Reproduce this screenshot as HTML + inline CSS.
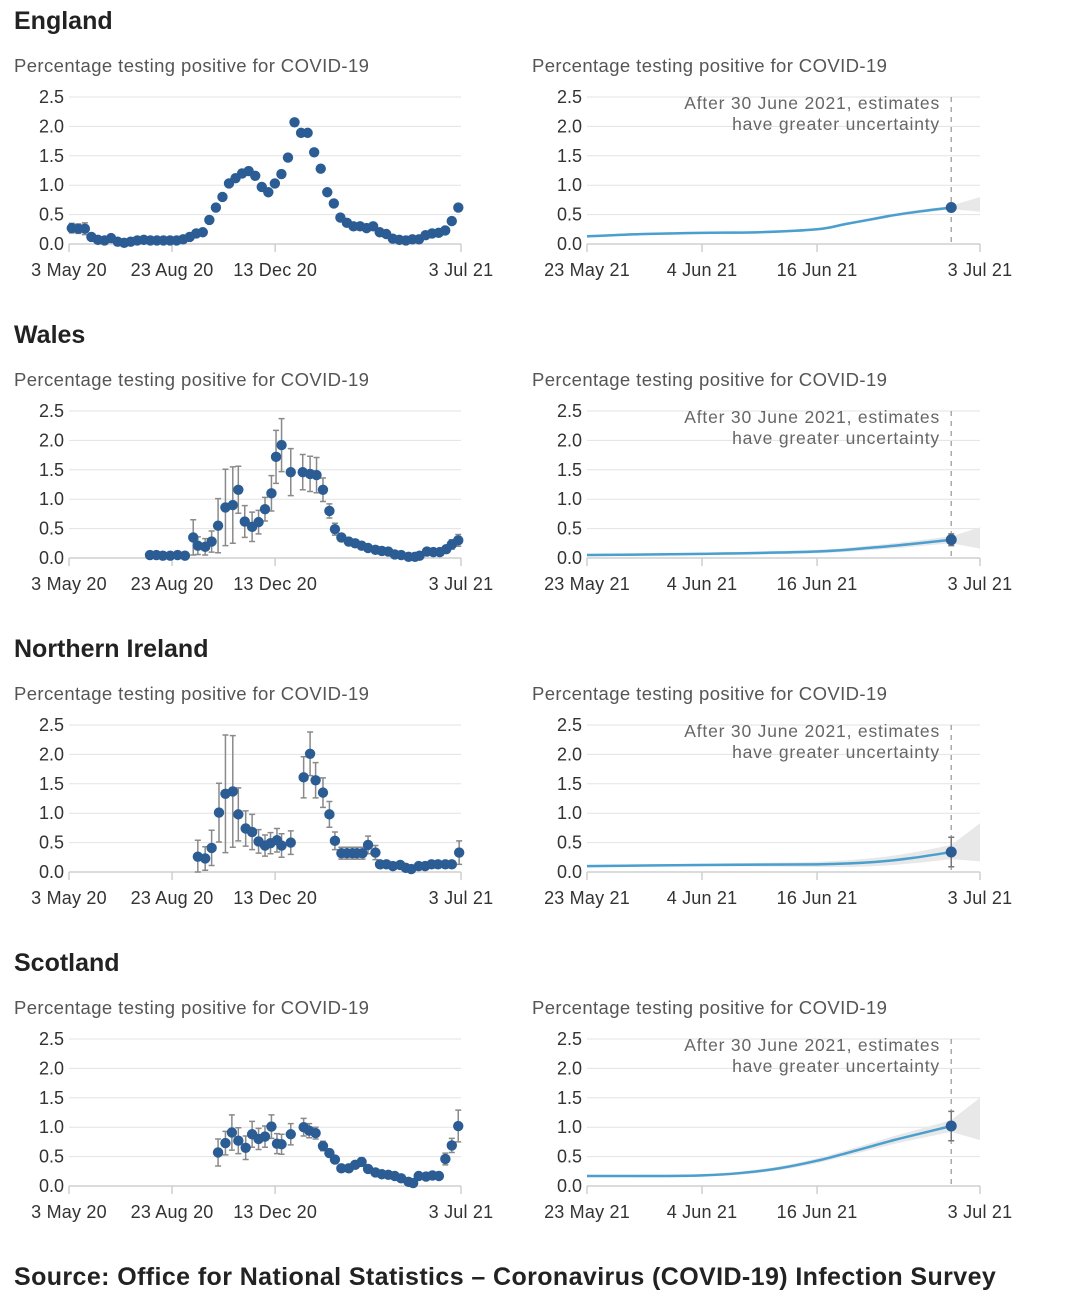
<!DOCTYPE html>
<html><head><meta charset="utf-8">
<style>
html,body{margin:0;padding:0;background:#fff;}
svg{display:block;font-family:"Liberation Sans",sans-serif;}
</style></head>
<body>
<svg id="c" width="1080" height="1314" viewBox="0 0 1080 1314" xmlns="http://www.w3.org/2000/svg">
<text x="14" y="1285" font-size="25" font-weight="bold" fill="#222" letter-spacing="0.4">Source: Office for National Statistics – Coronavirus (COVID-19) Infection Survey</text>
</svg>
<script>
// ---- data ----
const regions = ["England","Wales","Northern Ireland","Scotland"];
const yTicks = [0,0.5,1,1.5,2,2.5];
const yTickLabels = ["0.0","0.5","1.0","1.5","2.0","2.5"];
const leftTickDays = [0,112,224,426];
const leftTickLabels = ["3 May 20","23 Aug 20","13 Dec 20","3 Jul 21"];
const rightTickDays = [0,12,24,41];
const rightTickLabels = ["23 May 21","4 Jun 21","16 Jun 21","3 Jul 21"];

const engValues = [0.27,0.26,0.26,0.12,0.07,0.06,0.1,0.04,0.02,0.04,0.06,0.07,0.06,0.06,0.06,0.06,0.06,0.08,0.12,0.18,0.2,0.41,0.62,0.8,1.03,1.12,1.2,1.24,1.16,0.97,0.88,1.03,1.19,1.47,2.07,1.89,1.89,1.56,1.28,0.88,0.69,0.45,0.36,0.3,0.3,0.27,0.3,0.2,0.17,0.09,0.07,0.06,0.08,0.08,0.15,0.18,0.19,0.23,0.39,0.62];
const engErr = [0.08,0.08,0.1,0.05,0.03,0.03,0.05,0.03,0.02,0.02,0.02,0.02,0.02,0.02,0.02,0.02,0.02,0.02,0.02,0.02,0.02,0.02,0.02,0.02,0.02,0.02,0.02,0.02,0.02,0.02,0.02,0.02,0.02,0.02,0.05,0.03,0.03,0.03,0.02,0.02,0.02,0.02,0.02,0.02,0.02,0.02,0.02,0.02,0.02,0.02,0.02,0.02,0.02,0.02,0.02,0.02,0.02,0.02,0.03,0.04];
const engStartDay = 3, engStepDays = 7.12;

const walDays = [88,95,102,110,118,126,135,140,148,155,162,170,178,184,191,199,206,213,220,225,231,241,254,262,269,276,283,289,296,304,311,318,325,333,340,347,354,361,369,376,381,389,396,403,410,416,423];
const walValues = [0.05,0.05,0.04,0.04,0.05,0.04,0.35,0.21,0.19,0.28,0.55,0.86,0.9,1.16,0.62,0.53,0.61,0.83,1.1,1.72,1.92,1.46,1.46,1.43,1.41,1.16,0.8,0.49,0.35,0.28,0.25,0.21,0.17,0.14,0.12,0.11,0.06,0.05,0.02,0.02,0.04,0.11,0.1,0.1,0.15,0.23,0.3];
const walErr = [0.02,0.02,0.02,0.02,0.02,0.02,0.3,0.15,0.14,0.18,0.46,0.65,0.65,0.4,0.27,0.25,0.2,0.2,0.3,0.45,0.45,0.4,0.3,0.3,0.3,0.2,0.12,0.1,0.06,0.06,0.06,0.06,0.05,0.05,0.05,0.05,0.04,0.04,0.04,0.04,0.04,0.05,0.05,0.05,0.06,0.08,0.1];

const niDays = [140,148,155,163,170,178,184,192,199,206,213,219,226,231,241,255,262,268,276,283,289,296,302,308,313,319,325,333,338,345,352,360,366,372,380,387,394,401,409,416,424];
const niValues = [0.26,0.23,0.41,1.01,1.33,1.37,0.98,0.74,0.68,0.52,0.45,0.49,0.54,0.45,0.5,1.61,2.01,1.56,1.35,0.98,0.53,0.32,0.32,0.32,0.32,0.32,0.46,0.33,0.13,0.13,0.1,0.12,0.07,0.05,0.1,0.1,0.13,0.13,0.13,0.13,0.33];
const niErr = [0.28,0.2,0.3,0.5,1.0,0.95,0.45,0.3,0.3,0.2,0.18,0.18,0.2,0.2,0.2,0.35,0.37,0.3,0.25,0.22,0.15,0.1,0.1,0.1,0.1,0.1,0.15,0.12,0.06,0.06,0.06,0.06,0.06,0.06,0.06,0.06,0.06,0.06,0.06,0.06,0.2];

const scoDays = [162,170,177,184,192,199,206,213,220,226,231,241,255,261,268,276,283,289,296,304,311,318,325,333,340,347,354,361,369,374,380,388,395,402,409,416,423];
const scoValues = [0.57,0.73,0.91,0.77,0.65,0.88,0.8,0.84,1.01,0.72,0.71,0.88,1.0,0.94,0.9,0.68,0.56,0.45,0.3,0.3,0.36,0.41,0.29,0.23,0.2,0.19,0.17,0.13,0.07,0.05,0.17,0.16,0.18,0.17,0.46,0.69,1.02];
const scoErr = [0.23,0.2,0.3,0.22,0.2,0.22,0.18,0.18,0.2,0.17,0.17,0.18,0.15,0.12,0.1,0.08,0.06,0.05,0.05,0.05,0.05,0.07,0.05,0.04,0.04,0.04,0.04,0.04,0.04,0.04,0.04,0.04,0.04,0.04,0.1,0.12,0.27];

const modelDaysEng = [0,6,12,18,24,27,30,32,35,38];
const modelEng = [0.13,0.17,0.19,0.2,0.25,0.34,0.43,0.49,0.56,0.62];
const modelDaysWal = [0,12,24,30,34,38];
const modelWal = [0.05,0.07,0.11,0.18,0.24,0.31];
const modelDaysNi = [0,12,24,30,34,38];
const modelNi = [0.1,0.12,0.13,0.17,0.24,0.34];
const modelDaysSco = [0,8,12,16,20,24,28,32,35,38];
const modelSco = [0.17,0.17,0.18,0.22,0.3,0.43,0.6,0.78,0.9,1.02];
const bandHalf = [[0.02,0.03],[0.02,0.06],[0.02,0.12],[0.02,0.1]];
const pointErr = [0.04,0.1,0.25,0.25];
const endBandLo = [0.55,0.16,0.18,0.78];
const endBandHi = [0.8,0.52,0.83,1.5];
const lastModelDay = 38, endDay = 41;

// ---- drawing ----
const svg = document.getElementById('c');
const NS = "http://www.w3.org/2000/svg";
function mk(tag, attrs, parent){
  const e = document.createElementNS(NS, tag);
  for (const k in attrs) e.setAttribute(k, attrs[k]);
  (parent||svg).appendChild(e);
  return e;
}
const L0 = 69, L1 = 461, LD = 426;
const R0 = 587, R1 = 980, RD = 41;
const unitPx = 58.8;
const xL = d => L0 + d*(L1-L0)/LD;
const xR = d => R0 + d*(R1-R0)/RD;
const DOT = "#2b5d94", LINE = "#4a9fcf", ERR = "#8a8a8a";

const leftSeries = [
  {days: engValues.map((v,i)=>engStartDay+i*engStepDays), vals: engValues, err: engErr},
  {days: walDays, vals: walValues, err: walErr},
  {days: niDays, vals: niValues, err: niErr},
  {days: scoDays, vals: scoValues, err: scoErr}
];
const rightSeries = [
  {days: modelDaysEng, vals: modelEng},
  {days: modelDaysWal, vals: modelWal},
  {days: modelDaysNi, vals: modelNi},
  {days: modelDaysSco, vals: modelSco}
];

function smooth(pts){
  let d = `M${pts[0][0]},${pts[0][1]}`;
  for (let i=0;i<pts.length-1;i++){
    const p0 = pts[Math.max(0,i-1)], p1 = pts[i], p2 = pts[i+1], p3 = pts[Math.min(pts.length-1,i+2)];
    const c1 = [p1[0]+(p2[0]-p0[0])/6, p1[1]+(p2[1]-p0[1])/6];
    const c2 = [p2[0]-(p3[0]-p1[0])/6, p2[1]-(p3[1]-p1[1])/6];
    d += ` C${c1[0]},${c1[1]} ${c2[0]},${c2[1]} ${p2[0]},${p2[1]}`;
  }
  return d;
}

function drawAxes(g, base, x0, x1, labelX, tickDays, tickLabels, xf, prefix){
  const y = v => base - v*unitPx;
  yTicks.forEach((t,i)=>{
    if (i>0){
      const gl = mk('line',{x1:x0,x2:x1,y1:y(t),y2:y(t),stroke:"#e3e3e3","stroke-width":1},g);
      
      
    }
    const tl = mk('text',{x:labelX,y:y(t)+6,"text-anchor":"end","font-size":18,fill:"#333"},g);
    tl.textContent = yTickLabels[i];
    
    
  });
  const ax = mk('line',{x1:x0,x2:x1,y1:base,y2:base,stroke:"#cfcfcf","stroke-width":1.5},g);
  
  
  tickDays.forEach((d,i)=>{
    const tk = mk('line',{x1:xf(d),x2:xf(d),y1:base,y2:base+8,stroke:"#cfcfcf","stroke-width":1.5},g);
    
    
    const tl = mk('text',{x:xf(d),y:base+32,"text-anchor":"middle","font-size":18,fill:"#333","letter-spacing":0.2},g);
    tl.textContent = tickLabels[i];
    
    
  });
}

regions.forEach((name, r)=>{
  const off = 314*r;
  const base = 244 + off;
  const y = v => base - v*unitPx;
  const g = mk('g',{});
  
  
  const title = mk('text',{x:14,y:29+off,"font-size":25,"font-weight":"bold",fill:"#222"},g);
  title.textContent = name;
  
  
  [14,532].forEach((tx,k)=>{
    const st = mk('text',{x:tx,y:72+off,"font-size":18.5,fill:"#555","letter-spacing":0.4},g);
    st.textContent = "Percentage testing positive for COVID-19";
    
    
  });
  // left chart
  drawAxes(g, base, L0, L1, 64, leftTickDays, leftTickLabels, xL, 'left');
  const s = leftSeries[r];
  s.vals.forEach((v,i)=>{
    const x = xL(s.days[i]), e = s.err[i];
    const lo = Math.max(0, v-e), hi = v+e;
    if (e > 0.03){
      const eb = mk('path',{d:`M${x},${y(lo)}V${y(hi)}M${x-3},${y(lo)}h6M${x-3},${y(hi)}h6`,stroke:ERR,"stroke-width":1.5,fill:"none"},g);
      
      
    }
  });
  s.vals.forEach((v,i)=>{
    const c = mk('circle',{cx:xL(s.days[i]),cy:y(v),r:5.2,fill:DOT},g);
    
    
  });
  // right chart
  drawAxes(g, base, R0, R1, 582, rightTickDays, rightTickLabels, xR, 'right');
  const rs = rightSeries[r];
  const bh = bandHalf[r];
  const nd = rs.days.length;
  const hw = i => bh[0] + (bh[1]-bh[0])*Math.pow(rs.days[i]/lastModelDay,3);
  const upper = rs.days.map((d,i)=>[xR(d), y(rs.vals[i]+hw(i))]);
  const lower = rs.days.map((d,i)=>[xR(d), y(Math.max(0,rs.vals[i]-hw(i)))]);
  const band = mk('path',{d: smooth(upper)+` L${xR(rs.days[nd-1])},${lower[nd-1][1]} `+smooth(lower.slice().reverse()).replace(/^M/,'L')+'Z', fill:"#e8e8e8"},g);
  
  
  const ext = mk('path',{d:`M${xR(lastModelDay)},${y(rs.vals[nd-1]+hw(nd-1))} L${xR(endDay)},${y(endBandHi[r])} L${xR(endDay)},${y(endBandLo[r])} L${xR(lastModelDay)},${y(Math.max(0,rs.vals[nd-1]-hw(nd-1)))}Z`,fill:"#e8e8e8"},g);
  
  
  const dl = mk('line',{x1:xR(lastModelDay),x2:xR(lastModelDay),y1:y(2.5),y2:base,stroke:"#aaa","stroke-width":1.5,"stroke-dasharray":"5,5"},g);
  
  
  const ln = mk('path',{d:smooth(rs.days.map((d,i)=>[xR(d),y(rs.vals[i])])),stroke:LINE,"stroke-width":2.5,fill:"none"},g);
  
  
  const pv = rs.vals[nd-1], pe = pointErr[r], px = xR(lastModelDay);
  if (pe > 0.05){
    const eb = mk('path',{d:`M${px},${y(pv-pe)}V${y(pv+pe)}M${px-3},${y(pv-pe)}h6M${px-3},${y(pv+pe)}h6`,stroke:"#777","stroke-width":1.5,fill:"none"},g);
    
    
  }
  const pc = mk('circle',{cx:px,cy:y(pv),r:5.5,fill:DOT},g);
  
  
  const a1 = mk('text',{x:940,y:109+off,"text-anchor":"end","font-size":17.5,fill:"#666","letter-spacing":0.8},g);
  a1.textContent = "After 30 June 2021, estimates";
  
  
  const a2 = mk('text',{x:940,y:130+off,"text-anchor":"end","font-size":17.5,fill:"#666","letter-spacing":0.8},g);
  a2.textContent = "have greater uncertainty";
  
  
});
</script>
</body></html>
